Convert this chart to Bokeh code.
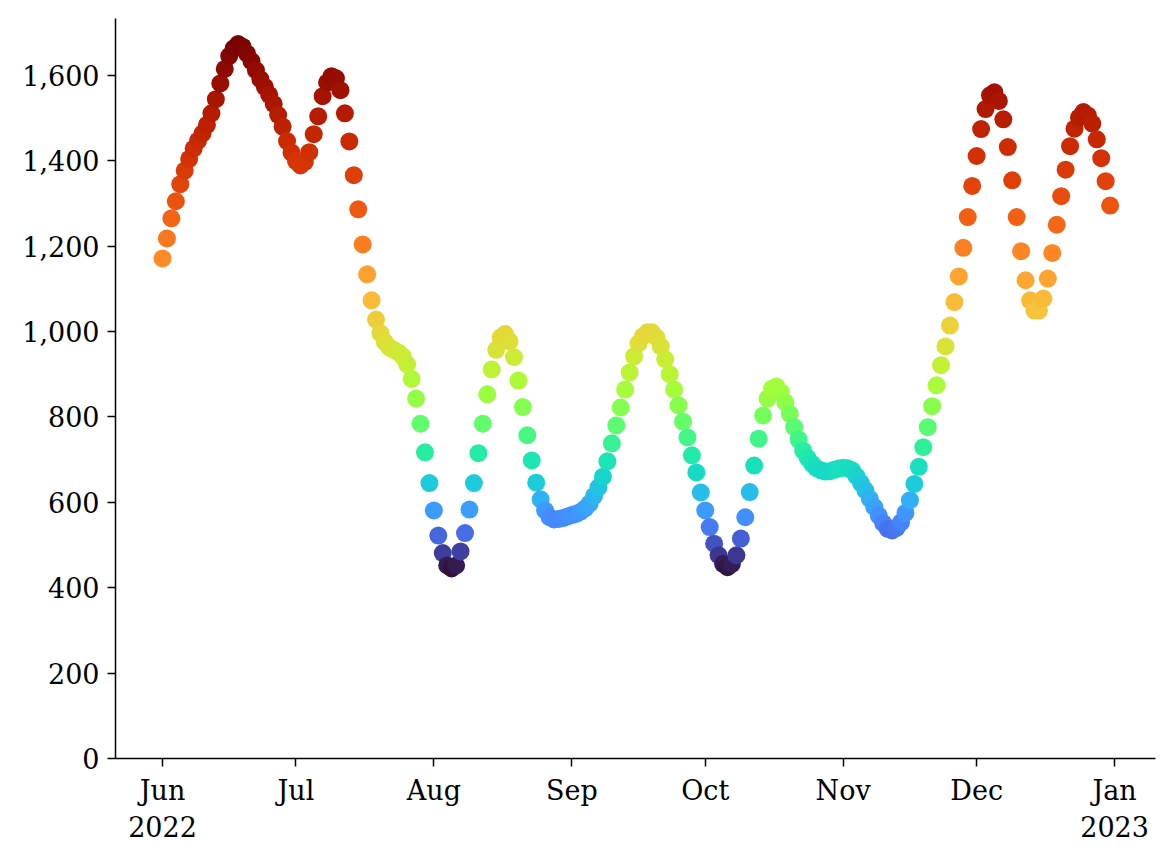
import pandas as pd
from bokeh.plotting import figure
from bokeh.models import ColumnDataSource, Range1d, FixedTicker, NumeralTickFormatter
from bokeh.transform import log_cmap
from bokeh.palettes import Turbo256
from bokeh.embed import file_html
from bokeh.resources import INLINE

# daily values, one list per month
jun_vals = [1171, 1218, 1265, 1305, 1345, 1377, 1404, 1428, 1447, 1464,
            1484, 1511, 1544, 1581, 1615, 1645, 1663, 1673, 1667, 1651,
            1633, 1612, 1591, 1573, 1554, 1533, 1507, 1480, 1446, 1419]
jul_vals = [1399, 1389, 1397, 1420, 1462, 1504, 1551, 1583, 1598, 1593,
            1565, 1511, 1445, 1366, 1286, 1204, 1134, 1073, 1028, 996,
            975, 963, 957, 951, 942, 923, 889, 843, 784, 717, 645]
aug_vals = [581, 522, 481, 452, 445, 452, 485, 528, 583, 645,
            715, 784, 853, 911, 957, 986, 994, 977, 940, 885,
            823, 757, 698, 646, 607, 581, 565, 560, 561, 563, 567]
sep_vals = [570, 573, 578, 586, 597, 615, 635, 660, 696, 738,
            780, 822, 864, 904, 942, 972, 989, 998, 998, 986,
            965, 935, 900, 864, 827, 789, 752, 710, 670, 623]
oct_vals = [581, 542, 503, 476, 456, 448, 456, 476, 515, 565,
            624, 686, 749, 803, 843, 866, 871, 858, 834, 807,
            776, 747, 721, 704, 690, 680, 675, 672, 673, 676, 679]
nov_vals = [681, 680, 675, 661, 645, 628, 608, 589, 569, 551,
            538, 534, 540, 553, 575, 605, 643, 683, 729, 776,
            825, 874, 921, 965, 1014, 1069, 1129, 1196, 1268, 1341]
dec_vals = [1411, 1474, 1521, 1553, 1560, 1540, 1497, 1432, 1354, 1268,
            1188, 1120, 1073, 1049, 1049, 1077, 1124, 1184, 1250, 1317,
            1379, 1434, 1475, 1501, 1514, 1506, 1487, 1450, 1406, 1352, 1295]

values = jun_vals + jul_vals + aug_vals + sep_vals + oct_vals + nov_vals + dec_vals
dates = pd.date_range("2022-06-01", "2022-12-31", freq="D")

tick_dates = ["2022-06-01", "2022-07-01", "2022-08-01", "2022-09-01",
              "2022-10-01", "2022-11-01", "2022-12-01", "2023-01-01"]
tick_labels = ["Jun\n2022", "Jul", "Aug", "Sep", "Oct", "Nov", "Dec", "Jan\n2023"]
y_ticks = [0, 200, 400, 600, 800, 1000, 1200, 1400, 1600]

FONT = "DejaVu Serif"
FSIZE = "27px"

source = ColumnDataSource(data=dict(date=dates, value=values))

start = pd.Timestamp("2022-06-01")
p = figure(width=1167, height=852, x_axis_type="datetime",
           x_range=Range1d(start - pd.Timedelta(days=10.56), start + pd.Timedelta(days=223.2)),
           y_range=Range1d(0, 1733),
           toolbar_location=None, tools="", output_backend="svg",
           min_border_left=115, min_border_right=12, min_border_top=18, min_border_bottom=94,
           background_fill_color=None, border_fill_color="white", outline_line_color=None)

# colour follows the value on a log scale (turbo)
p.scatter(x="date", y="value", size=18, line_color=None, source=source,
          fill_color=log_cmap("value", Turbo256, low=min(values), high=max(values)))

p.grid.grid_line_color = None

tick_ms = [pd.Timestamp(d).value / 1e6 for d in tick_dates]
p.xaxis.ticker = FixedTicker(ticks=tick_ms)
p.xaxis.major_label_overrides = {ms: lab for ms, lab in zip(tick_ms, tick_labels)}
p.yaxis.ticker = FixedTicker(ticks=y_ticks)
p.yaxis.formatter = NumeralTickFormatter(format="0,0")

for ax in (p.xaxis, p.yaxis):
    ax.major_label_text_font = FONT
    ax.major_label_text_font_size = FSIZE
    ax.major_label_text_color = "black"
    ax.axis_line_width = 1.5
    ax.axis_line_color = "black"
    ax.major_tick_line_width = 1.5
    ax.major_tick_line_color = "black"
    ax.major_tick_out = 8
    ax.major_tick_in = 0
    ax.minor_tick_line_color = None
    ax.major_label_standoff = 8

open("out.html", "w").write(file_html(p, INLINE))
